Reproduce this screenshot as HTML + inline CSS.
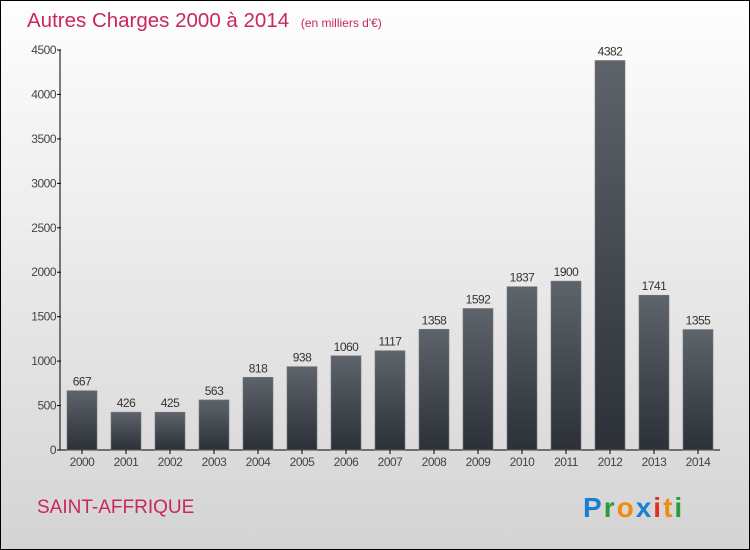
<!DOCTYPE html>
<html><head><meta charset="utf-8"><style>
body{margin:0}
#c{position:relative;width:748px;height:548px;border:1px solid #000;background:linear-gradient(#fefefe,#d4d4d4);font-family:"Liberation Sans",sans-serif;overflow:hidden}
</style></head><body>
<div id="c">
<svg id="s" width="748" height="548">
<defs><linearGradient id="g" x1="0" y1="0" x2="0" y2="1"><stop offset="0" stop-color="#5e646b"/><stop offset="1" stop-color="#2c3037"/></linearGradient></defs>
<text x="26" y="26" font-size="20.5" fill="#c8285a">Autres Charges 2000 à 2014 <tspan font-size="12" dx="6">(en milliers d'€)</tspan></text>
<text x="36" y="512" font-size="19" fill="#c8285a">SAINT-AFFRIQUE</text>
<text x="582" y="516" font-size="28" font-weight="bold" letter-spacing="2"><tspan fill="#1a7fd4">P</tspan><tspan fill="#2a9a3a">r</tspan><tspan fill="#f08a10">o</tspan><tspan fill="#1a7fd4">x</tspan><tspan fill="#e03020">i</tspan><tspan fill="#f08a10">t</tspan><tspan fill="#2a9a3a">i</tspan></text>
<g id="p"></g>
</svg></div>
<script>
const years=["2000","2001","2002","2003","2004","2005","2006","2007","2008","2009","2010","2011","2012","2013","2014"];
const values=[667,426,425,563,818,938,1060,1117,1358,1592,1837,1900,4382,1741,1355];
const ticks=[0,500,1000,1500,2000,2500,3000,3500,4000,4500];
const NS="http://www.w3.org/2000/svg",g=document.getElementById('p');
const y=v=>449-v*400/4500, x=i=>81+i*44;
function el(t,a,txt){const e=document.createElementNS(NS,t);for(const k in a)e.setAttribute(k,a[k]);if(txt!==undefined)e.textContent=txt;g.appendChild(e);return e;}
let e=el('line',{x1:59,y1:49,x2:59,y2:449,stroke:'#000'});

e=el('line',{x1:59,y1:449,x2:719,y2:449,stroke:'#000'});

ticks.forEach(t=>{
 e=el('line',{x1:56,y1:y(t),x2:60,y2:y(t),stroke:'#000'});
 
 e=el('text',{x:55,y:y(t)+4,'font-size':12,fill:'#444','text-anchor':'end','letter-spacing':'-0.5'},t);
 
});
years.forEach((yr,i)=>{
 const v=values[i];
 e=el('rect',{x:x(i)-15,y:y(v),width:30,height:449-y(v),fill:'url(#g)',stroke:'#777','stroke-width':0.6});
 
 e=el('text',{x:x(i),y:y(v)-5,'font-size':12,fill:'#333','text-anchor':'middle','letter-spacing':'-0.5'},v);
 
 e=el('line',{x1:x(i),y1:449,x2:x(i),y2:453,stroke:'#000'});
 
 e=el('text',{x:x(i),y:465,'font-size':12,fill:'#444','text-anchor':'middle','letter-spacing':'-0.5'},yr);
 
});
</script>
</body></html>
